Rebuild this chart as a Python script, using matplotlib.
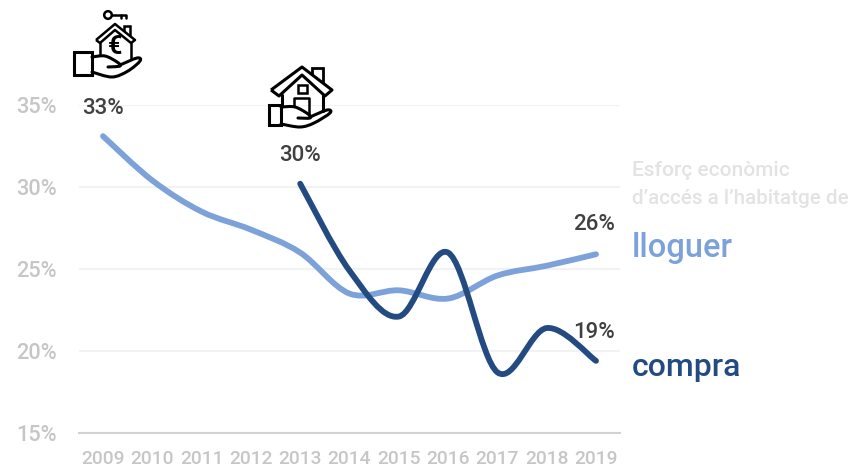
import matplotlib
matplotlib.use("Agg")
import matplotlib.pyplot as plt
from matplotlib.path import Path
from matplotlib.patches import PathPatch, Rectangle, Circle

plt.rcParams["font.family"] = ["Roboto", "DejaVu Sans"]

# Dades llegides del grafic
anys = [2009, 2010, 2011, 2012, 2013, 2014, 2015, 2016, 2017, 2018, 2019]
lloguer = [33.1, 30.4, 28.5, 27.4, 26.0, 23.5, 23.7, 23.2, 24.6, 25.2, 25.9]
anys_compra = [2013, 2014, 2015, 2016, 2017, 2018, 2019]
compra = [30.2, 24.9, 22.1, 26.0, 18.7, 21.4, 19.4]
ticks_y = [15, 20, 25, 30, 35]

W, H = 853, 469
C_LLOGUER = "#7da2d9"
C_COMPRA = "#234b82"
C_TICK = "#c6c6c6"
C_TEXT = "#404040"


def smooth_path(xs, ys):
    # linia suavitzada tipus Excel, corbes de Bezier entre els punts
    verts = [(xs[0], ys[0])]
    codes = [Path.MOVETO]
    n = len(xs)
    for i in range(n - 1):
        a = max(i - 1, 0)
        b = min(i + 2, n - 1)
        verts.append((xs[i] + (xs[i + 1] - xs[a]) / 6, ys[i] + (ys[i + 1] - ys[a]) / 6))
        verts.append((xs[i + 1] - (xs[b] - xs[i]) / 6, ys[i + 1] - (ys[b] - ys[i]) / 6))
        verts.append((xs[i + 1], ys[i + 1]))
        codes += [Path.CURVE4] * 3
    return Path(verts, codes)


fig = plt.figure(figsize=(W / 100, H / 100), dpi=100)
ax = fig.add_axes([79 / W, (H - 433) / H, (620 - 79) / W, (433 - 105) / H])
ax.set_xlim(2009 - 24 / 49.3, 2009 + (620 - 103) / 49.3)
ax.set_ylim(15, 35)

ax.set_yticks(ticks_y)
ax.set_yticklabels([f"{t}%" for t in ticks_y], fontsize=15.7, fontweight="medium", color=C_TICK)
ax.set_xticks(anys)
ax.set_xticklabels(anys, fontsize=13.8, fontweight="medium", color=C_TICK)
ax.tick_params(axis="both", length=0)
ax.tick_params(axis="y", pad=16)
ax.tick_params(axis="x", pad=12.5)
ax.grid(axis="y", color="#f2f2f2", lw=1.5)
ax.set_axisbelow(True)
for s in ["top", "left", "right"]:
    ax.spines[s].set_visible(False)
ax.spines["bottom"].set_color("#d2d2d2")
ax.spines["bottom"].set_linewidth(1.5)

ax.add_patch(PathPatch(smooth_path(anys, lloguer), fill=False, ec=C_LLOGUER, lw=4.2,
                       capstyle="round", joinstyle="round", clip_on=False))
ax.add_patch(PathPatch(smooth_path(anys_compra, compra), fill=False, ec=C_COMPRA, lw=4.2,
                       capstyle="round", joinstyle="round", clip_on=False))


def etiqueta(x, y, dx, dy):
    ax.annotate(f"{round(y)}%", (x, y), xytext=(dx, dy), textcoords="offset pixels",
                ha="center", va="center", fontsize=16, fontweight="medium", color=C_TEXT,
                annotation_clip=False)


etiqueta(anys[0], lloguer[0], 0, 28)
etiqueta(anys_compra[0], compra[0], 0, 28)
etiqueta(anys[-1], lloguer[-1], -2, 30)
etiqueta(anys_compra[-1], compra[-1], -2, 28)

# capa en pixels per als textos de llegenda i les icones
ov = fig.add_axes([0, 0, 1, 1], facecolor="none")
ov.set_xlim(0, W)
ov.set_ylim(H, 0)
ov.axis("off")

ov.text(632, 171, "Esforç econòmic", fontsize=15, fontweight="medium", color="#e3e3e3", va="center")
ov.text(632, 198, "d’accés a l’habitatge de", fontsize=14.9, fontweight="medium", color="#e3e3e3", va="center")
ov.text(632, 248, "lloguer", fontsize=23.5, fontweight="medium", color=C_LLOGUER, va="center")
ov.text(632, 368, "compra", fontsize=23, fontweight="medium", color=C_COMPRA, va="center")


def tra(punts, lw=2.2):
    ov.plot([p[0] for p in punts], [p[1] for p in punts], color="black", lw=lw,
            solid_capstyle="round", solid_joinstyle="round")


def corba(punts, lw=2.2):
    ov.add_patch(PathPatch(smooth_path([p[0] for p in punts], [p[1] for p in punts]),
                           fill=False, ec="black", lw=lw, capstyle="round", joinstyle="round"))


# icona 1: casa amb euro i clau
ov.add_patch(Rectangle((124, 26), 6, 10, fc="white", ec="black", lw=1.8))
ov.add_patch(PathPatch(Path([(96, 40), (115, 24), (135, 40), (131, 43), (115, 30), (100, 43), (96, 40)]),
                       fc="white", ec="black", lw=1.8, joinstyle="round"))
tra([(100, 43), (100, 54)], lw=1.8)
tra([(131, 43), (131, 58)], lw=1.8)
ov.text(115, 47, "€", fontsize=18, fontweight="bold", color="black", ha="center", va="center")
ov.add_patch(Circle((108, 15), 3.8, fc="white", ec="black", lw=1.8))
tra([(112, 15), (126, 15), (126, 18)], lw=1.8)
tra([(121, 15), (121, 18)], lw=1.8)
ov.add_patch(Rectangle((74, 52), 18, 23, fc="white", ec="black", lw=2.2))
corba([(92, 57), (105, 56), (117, 62), (120, 66), (108, 67)])
corba([(120, 65), (137, 58), (140, 61), (128, 71), (112, 77), (92, 72)])

# icona 2: casa amb xemeneia
ov.add_patch(Rectangle((312, 68), 11, 14, fc="white", ec="black", lw=2.0))
ov.add_patch(PathPatch(Path([(271, 90), (302, 67), (332, 90), (325, 96), (302, 75), (279, 96), (271, 90)]),
                       fc="white", ec="black", lw=2.2, joinstyle="round"))
tra([(282, 95), (282, 105)])
tra([(323, 95), (323, 111)])
ov.add_patch(Rectangle((298, 85), 9, 8, fc="white", ec="black", lw=1.8))
tra([(294, 106), (294, 98), (309, 98), (309, 115)], lw=1.8)
ov.add_patch(Rectangle((269, 105), 12, 20, fc="white", ec="black", lw=2.2))
corba([(281, 107), (295, 107), (308, 114), (310, 118), (298, 118)])
corba([(310, 117), (327, 110), (330, 113), (314, 123), (300, 127), (281, 124)])

fig.savefig("out.png", dpi=100)
